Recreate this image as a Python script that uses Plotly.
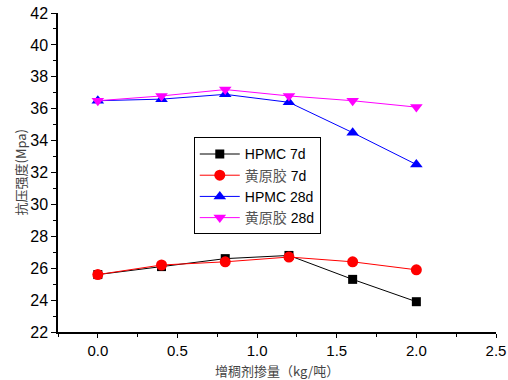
import plotly.graph_objects as go

# Thickener dosage (kg/ton)
dosage = [0.0, 0.4, 0.8, 1.2, 1.6, 2.0]

# Compressive strength (MPa)
hpmc_7d = [25.6, 26.1, 26.6, 26.8, 25.3, 23.9]
xanthan_7d = [25.6, 26.2, 26.4, 26.7, 26.4, 25.9]
hpmc_28d = [36.5, 36.6, 36.9, 36.4, 34.5, 32.5]
xanthan_28d = [36.5, 36.8, 37.2, 36.8, 36.5, 36.1]

cjk = '<span style="color:#555">黄原胶</span>'
series = [
    ("HPMC 7d", hpmc_7d, "black", "square", 9),
    (cjk + " 7d", xanthan_7d, "red", "circle", 11),
    ("HPMC 28d", hpmc_28d, "blue", "triangle-up", 11),
    (cjk + " 28d", xanthan_28d, "magenta", "triangle-down", 11),
]

fig = go.Figure()
for name, vals, color, sym, size in series:
    fig.add_trace(go.Scatter(
        x=dosage, y=vals, name=name, mode="lines+markers",
        line=dict(color=color, width=1),
        marker=dict(symbol=sym, size=size, color=color),
    ))

font_main = "Liberation Sans, Arial, Noto Sans CJK SC"
title_font = dict(family="Noto Sans CJK SC", size=13, color="#444")

axis_common = dict(
    showline=True, linecolor="black", linewidth=1.5,
    ticks="outside", tickwidth=1.2, tickcolor="black",
    showgrid=False, zeroline=False, mirror=False, automargin=False,
)

fig.update_layout(
    width=508, height=380,
    margin=dict(l=58, r=12, t=13, b=48),
    paper_bgcolor="white", plot_bgcolor="white",
    showlegend=True,
    legend=dict(
        x=0.31, y=0.61, xanchor="left", yanchor="top",
        bgcolor="white", bordercolor="black", borderwidth=1,
        font=dict(family=font_main, size=14, color="black"),
        tracegroupgap=0, itemwidth=40,
    ),
    xaxis=dict(
        range=[-0.25, 2.5], tickvals=[0, 0.5, 1.0, 1.5, 2.0, 2.5],
        ticktext=["0.0", "0.5", "1.0", "1.5", "2.0", "2.5"],
        ticklen=4,
        tickfont=dict(family=font_main, size=15, color="black"),
        minor=dict(dtick=0.25, tick0=0, ticks="outside", ticklen=3, tickcolor="black"),
        **axis_common,
    ),
    yaxis=dict(
        range=[22, 42], dtick=2, tick0=22, ticklen=5,
        tickfont=dict(family=font_main, size=16, color="black"),
        minor=dict(dtick=1, ticks="outside", ticklen=3, tickcolor="black"),
        **axis_common,
    ),
    annotations=[
        dict(text="增稠剂掺量（kg/吨）", xref="paper", yref="paper",
             x=0.5, y=0, xanchor="center", yanchor="top", yshift=-28,
             showarrow=False, font=title_font, borderpad=0),
        dict(text="抗压强度(Mpa)", xref="paper", yref="paper",
             x=0, y=0.5, xanchor="center", yanchor="middle", xshift=-38,
             textangle=-90, showarrow=False, font=title_font),
    ],
)

fig.write_html("out.html")
